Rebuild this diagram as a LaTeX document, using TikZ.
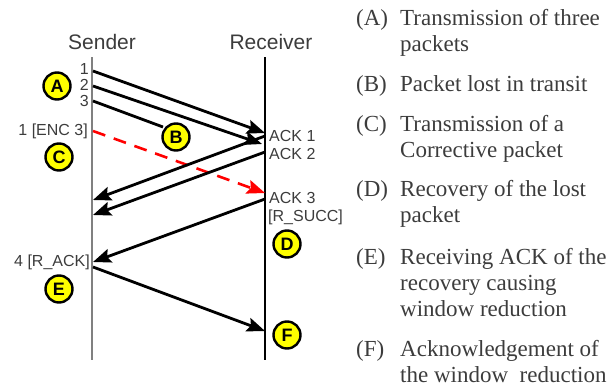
\documentclass[tikz,border=0pt]{standalone}
\usepackage{fontspec}
\setmainfont{Liberation Serif}
\newfontfamily\arialf{Liberation Sans}
\usetikzlibrary{arrows.meta}
\definecolor{txtgray}{HTML}{3C3C3C}
\definecolor{linegray}{HTML}{808080}
\definecolor{circyellow}{HTML}{FFFF00}
\tikzset{
  lifeline/.style={line width=1.3pt},
  msg/.style={line width=2.8pt, -{Stealth[length=18pt,width=14pt,inset=3pt]}},
  lostmsg/.style={line width=2.8pt},
  redmsg/.style={line width=2.6pt, red, dash pattern=on 13pt off 9pt, -{Stealth[length=18pt,width=14pt,inset=3pt]}},
  title/.style={font=\arialf\fontsize{21}{25}\selectfont, text=txtgray, inner sep=0pt},
  lbl/.style={font=\arialf\fontsize{16}{19}\selectfont, text=txtgray, inner sep=0pt},
  badge/.style={circle, draw=black, line width=2.4pt, fill=circyellow, minimum size=27pt, inner sep=0pt, font=\arialf\bfseries\fontsize{18}{21}\selectfont},
  itemlbl/.style={font=\fontsize{23}{27}\selectfont, text=txtgray, inner sep=0pt, anchor=base west},
  itemtxt/.style={font=\fontsize{23}{27}\selectfont, text=txtgray, inner sep=0pt, anchor=base west}
}
\begin{document}
\begin{tikzpicture}[x=1pt,y=-1pt]
\useasboundingbox (0,0) rectangle (613,388);
% lifelines
\coordinate (stop) at (92,57);
\coordinate (sbot) at (92,360);
\coordinate (rtop) at (265,57);
\coordinate (rbot) at (265,360);
\draw[lifeline, draw=linegray] (stop) -- (sbot);
\draw[lifeline] (rtop) -- (rbot);
\node[title] (sender) at (102,42) {Sender};
\node[title] (receiver) at (271,42) {Receiver};
% sender side labels
\node[lbl, anchor=east] (l1) at (89,69) {1};
\node[lbl, anchor=east] (l2) at (89,85) {2};
\node[lbl, anchor=east] (l3) at (89,101) {3};
\node[lbl, anchor=east] (enc) at (88,131) {1 [ENC 3]};
\node[lbl, anchor=east] (rack) at (90,262) {4 [R\_ACK]};
% receiver side labels
\node[lbl, anchor=west] (ack1) at (269,136) {ACK 1};
\node[lbl, anchor=west] (ack2) at (269,154) {ACK 2};
\node[lbl, anchor=west] (ack3) at (269,198) {ACK 3};
\node[lbl, anchor=west] (rsucc) at (268,217) {[R\_SUCC]};
% anchor points
\coordinate (s1) at (93,71);
\coordinate (s2) at (93,86);
\coordinate (s3) at (93,101);
\coordinate (s4) at (93,131);
\coordinate (s5) at (93,200);
\coordinate (s6) at (93,215);
\coordinate (s7) at (93,262);
\coordinate (s8) at (93,267);
\coordinate (r1) at (265,133);
\coordinate (r2) at (262,144);
\coordinate (r3) at (265,193);
\coordinate (r4) at (265,136);
\coordinate (r5) at (265,152);
\coordinate (r6) at (265,199);
\coordinate (r7) at (265,331);
\coordinate (lost) at (163,127);
% messages
\draw[msg] (s1) -- (r1);
\draw[msg] (s2) -- (r2);
\draw[lostmsg] (s3) -- (lost);
\draw[redmsg] (s4) -- (r3);
\draw[msg] (r4) -- (s5);
\draw[msg] (r5) -- (s6);
\draw[msg] (r6) -- (s7);
\draw[msg] (s8) -- (r7);
% badges
\node[badge] (A) at (57,86) {A};
\node[badge] (B) at (176,137) {B};
\node[badge] (C) at (59,157) {C};
\node[badge] (D) at (287,244) {D};
\node[badge] (E) at (59,289) {E};
\node[badge] (F) at (287,335) {F};
% legend
\node[itemlbl] (ia) at (356,25) {(A)};
\node[itemtxt] (ta1) at (400,25) {Transmission of three};
\node[itemtxt] (ta2) at (400,51) {packets};
\node[itemlbl] (ib) at (356,91) {(B)};
\node[itemtxt] (tb1) at (400,91) {Packet lost in transit};
\node[itemlbl] (ic) at (356,131) {(C)};
\node[itemtxt] (tc1) at (400,131) {Transmission of a};
\node[itemtxt] (tc2) at (400,157) {Corrective packet};
\node[itemlbl] (id) at (356,196) {(D)};
\node[itemtxt] (td1) at (400,196) {Recovery of the lost};
\node[itemtxt] (td2) at (400,222) {packet};
\node[itemlbl] (ie) at (356,264) {(E)};
\node[itemtxt] (te1) at (400,264) {Receiving ACK of the};
\node[itemtxt] (te2) at (400,290) {recovery causing};
\node[itemtxt] (te3) at (400,316) {window reduction};
\node[itemlbl] (iff) at (356,356) {(F)};
\node[itemtxt] (tf1) at (400,356) {Acknowledgement of};
\node[itemtxt] (tf2) at (400,382) {the window\ \ reduction};
\end{tikzpicture}
\end{document}
